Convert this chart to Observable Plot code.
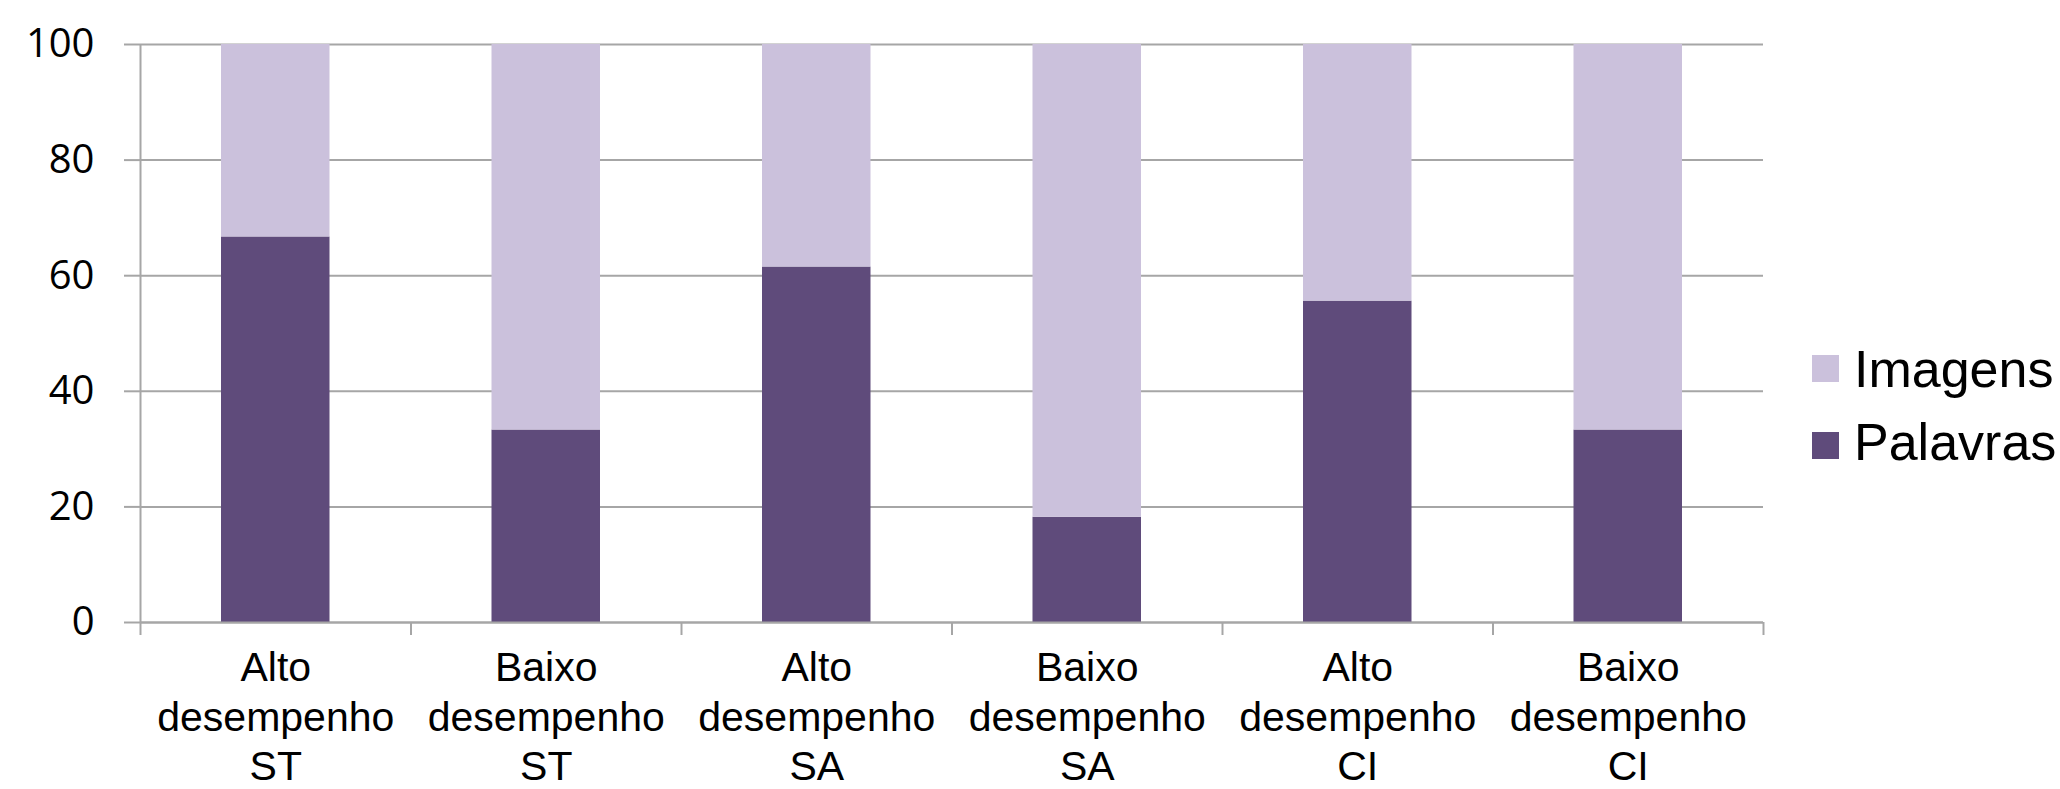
<!DOCTYPE html>
<html>
<head>
<meta charset="utf-8">
<script src="https://cdn.jsdelivr.net/npm/d3@7"></script>
<script src="https://cdn.jsdelivr.net/npm/@observablehq/plot@0.6"></script>
<style>
  html, body { margin: 0; padding: 0; background: #fff; overflow: hidden; }
  #wrap { position: relative; width: 2060px; height: 789px; overflow: hidden; }
  #wrap svg { display: block; }
  .lg-sw { position: absolute; width: 27px; height: 27px; }
  .lg-tx { position: absolute; font-family: "Liberation Sans", Arial, sans-serif; font-size: 52px; line-height: 52px; color: #000; white-space: nowrap; }
</style>
</head>
<body>
<div id="wrap"></div>
<script>
const categories = [
  "Alto\ndesempenho\nST", "Baixo\ndesempenho\nST",
  "Alto\ndesempenho\nSA", "Baixo\ndesempenho\nSA",
  "Alto\ndesempenho\nCI", "Baixo\ndesempenho\nCI"
];
const palavras = [66.7, 33.3, 61.5, 18.2, 55.6, 33.3];
const imagens  = [33.3, 66.7, 38.5, 81.8, 44.4, 66.7];
const series = ["Palavras", "Imagens"];
const seriesColors = ["#5f4b7b", "#cbc1dc"];
const yTicks = [0, 20, 40, 60, 80, 100];
const legendOrder = ["Imagens", "Palavras"];

const table = [];
categories.forEach((c, i) => {
  table.push({i, series: "Palavras", y1: 0, y2: palavras[i]});
  table.push({i, series: "Imagens", y1: palavras[i], y2: palavras[i] + imagens[i]});
});

const gray = "#a6a6a6";
const chart = Plot.plot({
  width: 2060,
  height: 789,
  marginLeft: 140,
  marginRight: 297,
  marginTop: 44,
  marginBottom: 167,
  style: {fontFamily: "'Liberation Sans', Arial, sans-serif", color: "#000", background: "#fff"},
  x: {domain: [0, categories.length], axis: null},
  y: {domain: [0, 100], axis: null},
  color: {domain: series, range: seriesColors},
  marks: [
    Plot.gridY(yTicks, {stroke: gray, strokeOpacity: 1, strokeWidth: 2}),
    Plot.axisY(yTicks, {tickSize: 16, tickPadding: 30, stroke: gray, strokeWidth: 2,
      fontSize: 40, fontFamily: "'Open Sans', sans-serif", fill: "#000", tickFormat: d => String(d)}),
    Plot.rectY(table, {x1: "i", x2: d => d.i + 1, y1: "y1", y2: "y2", fill: "series",
      insetLeft: 81, insetRight: 81}),
    Plot.ruleY([0], {stroke: gray, strokeWidth: 2}),
    Plot.ruleX([0], {y1: 0, y2: 100, stroke: gray, strokeWidth: 2}),
    Plot.axisX(d3.range(categories.length + 1), {tickSize: 13, fill: "none", stroke: gray, strokeWidth: 2}),
    Plot.text(categories, {x: (d, i) => i + 0.5, frameAnchor: "bottom", lineAnchor: "top",
      dy: 24, fontSize: 41, lineHeight: 1.2, text: d => d, fill: "#000"})
  ]
});

const wrap = document.getElementById("wrap");
wrap.appendChild(chart);

const legendPos = [{sw: 355, tx: 343}, {sw: 432, tx: 416}];
legendOrder.forEach((name, k) => {
  const sw = document.createElement("div");
  sw.className = "lg-sw";
  sw.style.left = "1812px";
  sw.style.top = legendPos[k].sw + "px";
  sw.style.background = seriesColors[series.indexOf(name)];
  wrap.appendChild(sw);
  const tx = document.createElement("div");
  tx.className = "lg-tx";
  tx.style.left = "1854px";
  tx.style.top = legendPos[k].tx + "px";
  tx.textContent = name;
  wrap.appendChild(tx);
});
</script>
</body>
</html>
